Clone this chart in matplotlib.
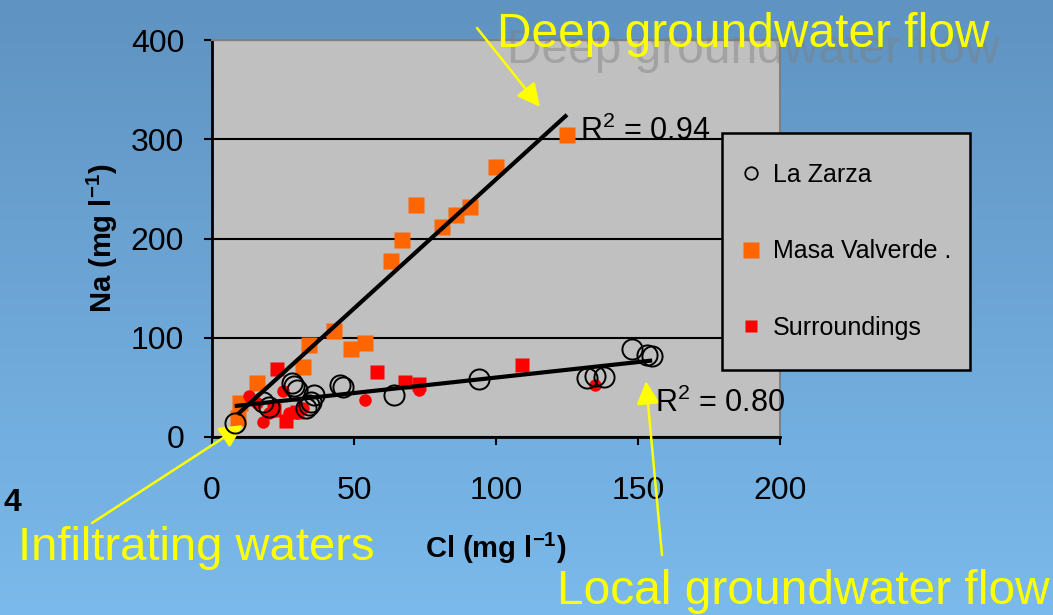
import numpy as np
import matplotlib.pyplot as plt
from matplotlib.lines import Line2D
from matplotlib.patches import Rectangle
from matplotlib.colors import LinearSegmentedColormap

plt.rcParams['font.family'] = ['Liberation Sans', 'DejaVu Sans']
plt.rcParams['mathtext.fontset'] = 'custom'
plt.rcParams['mathtext.rm'] = 'Liberation Sans'
plt.rcParams['mathtext.it'] = 'Liberation Sans'
plt.rcParams['mathtext.bf'] = 'Liberation Sans:bold'

# La Zarza (open circles)
zarza_cl = [8, 18, 20, 28, 29, 30, 33, 34, 35, 36, 45, 46, 64, 94, 132, 135, 138, 148, 153, 155]
zarza_na = [14, 35, 30, 54, 51, 47, 29, 32, 35, 42, 52, 50, 42, 58, 59, 61, 60, 89, 83, 82]
# Masa Valverde (orange squares)
valverde_cl = [9, 10, 16, 32, 34, 43, 49, 54, 63, 67, 72, 81, 86, 91, 100, 125]
valverde_na = [19, 34, 54, 71, 93, 107, 89, 95, 177, 198, 234, 212, 224, 232, 272, 304]
# Surroundings (red squares and red dots)
sur_cl = [23, 26, 58, 68, 73, 109, 22, 30]
sur_na = [69, 16, 65, 55, 53, 73, 27, 25]
sur_dot_cl = [13, 25, 18, 16, 20, 27, 32, 30, 54, 73, 135, 22]
sur_dot_na = [41, 46, 15, 34, 24, 24, 29, 24, 37, 47, 52, 26]

x_ticks = [0, 50, 100, 150, 200]
y_ticks = [0, 100, 200, 300, 400]
r2_deep = 0.94
r2_local = 0.80

W, H = 1053, 615
fig = plt.figure(figsize=(W / 100, H / 100), dpi=100)


def fx(px):
    return px / W


def fy(py):
    return 1 - py / H


# slide background gradient
bg = fig.add_axes([0, 0, 1, 1], zorder=-10)
grad = np.linspace(0, 1, 256).reshape(-1, 1)
cmap = LinearSegmentedColormap.from_list('slide', ['#5F93C1', '#7BBAEC'])
bg.imshow(grad, aspect='auto', cmap=cmap, extent=[0, 1, 0, 1], origin='upper')
bg.axis('off')

ax = fig.add_axes([fx(212), fy(437), (780 - 212) / W, (437 - 40) / H])
ax.set_facecolor('#C0C0C0')

ax.plot(valverde_cl, valverde_na, 's', color='#FF6600', ms=11.5, mec='none', zorder=3)
ax.plot(sur_cl, sur_na, 's', color='#FF0000', ms=9.5, mec='none', zorder=4)
ax.plot(sur_dot_cl, sur_dot_na, 'o', color='#FF0000', ms=9, mec='none', zorder=4)
ax.plot(zarza_cl, zarza_na, 'o', mfc='none', mec='black', mew=1.4, ms=14.5, zorder=5)

# linear trendlines
for xs, ys in [(valverde_cl, valverde_na), (zarza_cl, zarza_na)]:
    k, b = np.polyfit(xs, ys, 1)
    xx = np.array([min(xs), max(xs)])
    ax.plot(xx, k * xx + b, color='black', lw=3, zorder=6, solid_capstyle='butt')

ax.set_xlim(0, 200)
ax.set_ylim(0, 400)
ax.set_xticks(x_ticks)
ax.set_yticks(y_ticks)
ax.yaxis.grid(True, color='black', lw=1.5)
ax.set_axisbelow(True)
for s in ['left', 'bottom']:
    ax.spines[s].set_color('black')
    ax.spines[s].set_linewidth(2)
for s in ['top', 'right']:
    ax.spines[s].set_color('#808080')
    ax.spines[s].set_linewidth(1.5)
ax.tick_params(direction='out', length=6, width=1.5, labelsize=23, color='black')
ax.tick_params(axis='x', pad=22)
ax.tick_params(axis='y', pad=14)

ax.set_xlabel(r'Cl (mg l$^{\mathbf{-1}}$)', fontsize=21, fontweight='bold', va='center')
ax.xaxis.set_label_coords(0.5, (437 - 548) / 397)
ax.set_ylabel(r'Na (mg l$^{\mathbf{-1}}$)', fontsize=21, fontweight='bold', va='center', ha='center')
ax.yaxis.set_label_coords((102 - 212) / 568, 0.5)

# legend box (drawn separately so its size matches the slide)
box = (fx(722), fy(370), (970 - 722) / W, (370 - 133) / H)
frame = Rectangle(box[:2], box[2], box[3], transform=fig.transFigure, clip_on=False,
                  facecolor='#C0C0C0', edgecolor='black', lw=1.8, zorder=9)
ax.add_patch(frame)
handles = [
    Line2D([], [], ls='none', marker='o', mfc='none', mec='black', mew=1.3, ms=9, label='La Zarza'),
    Line2D([], [], ls='none', marker='s', color='#FF6600', mec='none', ms=11, label='Masa Valverde .'),
    Line2D([], [], ls='none', marker='s', color='#FF0000', mec='none', ms=8.5, label='Surroundings'),
]
leg = ax.legend(handles=handles, loc='center', bbox_to_anchor=box,
                bbox_transform=fig.transFigure, fontsize=18, frameon=False,
                borderpad=0, labelspacing=2.1, handlelength=0.8, handletextpad=0.5,
                borderaxespad=0)
leg.set_zorder(10)

ax.text(129.6, 299, f'R$^2$ = {r2_deep:.2f}', fontsize=22, va='baseline', ha='left', zorder=7)
ax.text(156, 25.5, f'R$^2$ = {r2_local:.2f}', fontsize=22, va='baseline', ha='left', zorder=7)

# yellow slide annotations
yel = '#FFFF00'
fig.text(fx(507), fy(63), 'Deep groundwater flow', color='#7f7f7f', alpha=0.45,
         fontsize=34.5, va='baseline', ha='left', zorder=2)
fig.text(fx(497), fy(47), 'Deep groundwater flow', color=yel, fontsize=34.5,
         va='baseline', ha='left', zorder=3)
fig.text(fx(18), fy(560), 'Infiltrating waters', color=yel, fontsize=34,
         va='baseline', ha='left')
fig.text(fx(557), fy(604), 'Local groundwater flow', color=yel, fontsize=34.5,
         va='baseline', ha='left')
fig.text(fx(3), fy(511), '4', fontsize=23, fontweight='bold', va='baseline', ha='left')

arrow = dict(arrowstyle='-|>,head_length=0.4,head_width=0.2', color=yel, lw=1.8,
             mutation_scale=35, shrinkA=0, shrinkB=0)
ax.annotate('', xy=(115.5, 332.5), xycoords='data', xytext=(fx(477), fy(28)),
            textcoords='figure fraction', arrowprops=arrow, annotation_clip=False)
ax.annotate('', xy=(10.9, 12), xycoords='data', xytext=(fx(92), fy(523)),
            textcoords='figure fraction', arrowprops=arrow, annotation_clip=False)
ax.annotate('', xy=(152.8, 56.4), xycoords='data', xytext=(fx(662), fy(555)),
            textcoords='figure fraction', arrowprops=arrow, annotation_clip=False)

fig.savefig('out.png', dpi=100)
